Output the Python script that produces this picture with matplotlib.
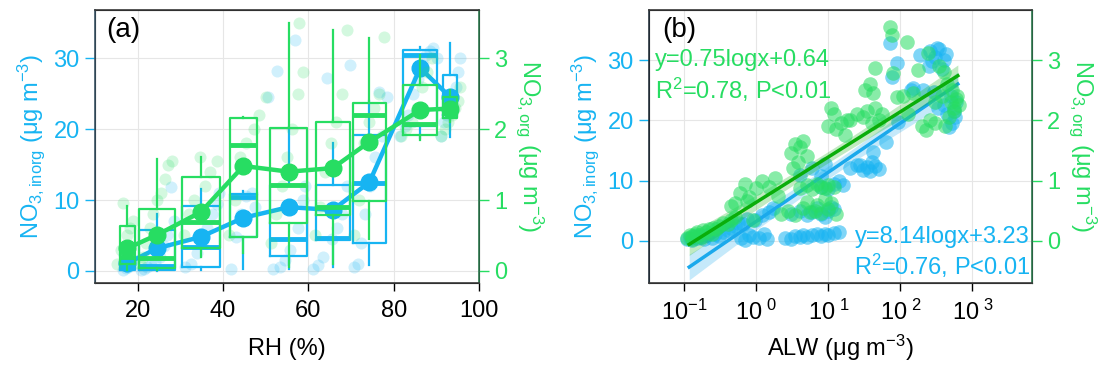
import matplotlib
matplotlib.use('Agg')
import matplotlib.pyplot as plt
import numpy as np

plt.rcParams['font.family'] = ['Liberation Sans', 'DejaVu Sans']
plt.rcParams['mathtext.fontset'] = 'custom'
plt.rcParams['mathtext.rm'] = 'Liberation Sans'
plt.rcParams['mathtext.it'] = 'Liberation Sans:italic'

BLUE = '#17b4f2'
GREEN = '#27dd62'
FIT_GREEN = '#0aae0a'
FIT_BLUE = '#1aa9ec'
FS = 17

#### panel (a): RH bins
bin_rh = [17.6, 24.6, 34.8, 44.8, 55.4, 65.7, 74.3, 86.2, 93.3]
bin_width = [3.7, 8.4, 8.9, 6.5, 8.6, 8.0, 7.8, 8.1, 3.3]
mean_inorg = [1.1, 3.2, 4.8, 7.5, 9.0, 8.6, 12.5, 28.6, 24.5]
mean_org = [0.32, 0.51, 0.83, 1.48, 1.40, 1.45, 1.82, 2.27, 2.29]

# whislo, q1, median, q3, whishi
box_inorg = [
    [0.0, 0.1, 0.5, 1.5, 2.5],
    [0.0, 0.2, 0.7, 5.8, 8.0],
    [0.2, 0.6, 3.4, 9.2, 11.5],
    [0.3, 4.8, 10.4, 10.8, 11.3],
    [0.3, 2.1, 4.5, 12.1, 20.0],
    [0.6, 4.3, 4.6, 12.1, 18.0],
    [0.8, 3.9, 12.4, 19.2, 24.0],
    [18.8, 20.5, 30.4, 31.1, 31.6],
    [18.9, 22.0, 24.3, 27.6, 32.1],
]
box_org = [
    [0.02, 0.10, 0.20, 0.63, 0.91],
    [0.02, 0.04, 0.18, 0.87, 1.58],
    [0.20, 0.32, 0.69, 1.33, 1.61],
    [0.25, 0.48, 1.77, 2.15, 2.17],
    [0.05, 0.67, 1.21, 2.01, 3.50],
    [0.10, 0.79, 0.90, 2.10, 3.40],
    [0.45, 0.98, 2.20, 2.37, 3.28],
    [1.85, 1.92, 2.07, 2.62, 3.05],
    [2.10, 2.15, 2.30, 2.45, 2.55],
]

# faint individual points
pts_rh_inorg = [16.5, 17.2, 17.8, 18.3, 18.9, 16.9, 17.5,
                20.8, 21.5, 22.3, 23.1, 24.0, 25.2, 26.1, 26.9, 27.8, 28.4,
                31.2, 32.5, 33.8, 35.0, 36.2, 37.4, 38.5, 39.1,
                41.8, 43.0, 44.2, 45.5, 46.8, 47.5,
                50.5, 51.8, 52.6, 53.4, 54.5, 55.6, 56.9, 57.5, 58.7, 59.3,
                61.2, 62.3, 63.5, 64.3, 65.5, 66.8, 67.9, 69.0, 69.8,
                70.8, 71.6, 72.4, 73.2, 74.4, 75.6, 76.5, 77.3, 78.5,
                81.5, 82.6, 83.4, 84.5, 85.6, 86.8, 87.5, 88.4, 89.3, 90.1,
                91.0, 91.8, 92.6, 93.2, 93.9, 94.5, 95.1, 95.6]
pts_inorg = [0.2, 0.4, 0.6, 1.0, 1.5, 2.2, 3.0,
             0.1, 0.3, 0.5, 0.8, 1.2, 2.0, 3.5, 5.0, 11.8, 7.0,
             0.5, 1.0, 2.5, 4.0, 6.0, 8.0, 9.5, 11.0,
             0.3, 4.8, 8.0, 10.5, 11.0, 9.0,
             24.5, 0.3, 28.2, 0.6, 1.5, 3.0, 32.5, 6.0, 10.0, 12.0,
             0.3, 0.8, 2.0, 27.2, 4.5, 6.0, 8.0, 12.0, 29.0,
             0.6, 1.0, 4.0, 8.0, 12.0, 16.0, 25.2, 19.0, 24.5,
             19.0, 20.5, 22.0, 25.0, 27.0, 29.0, 30.5, 31.0, 31.5, 30.0,
             19.0, 21.0, 22.0, 23.5, 24.5, 26.0, 28.0, 30.0]
pts_rh_org = [15.2, 16.0, 16.6, 17.4, 18.2, 19.0,
              20.5, 21.3, 22.0, 22.8, 23.6, 24.5, 25.4, 26.3, 27.2, 28.1,
              30.8, 32.0, 33.2, 34.6, 35.8, 37.0, 38.6,
              41.5, 42.8, 44.0, 45.3, 47.2, 48.5, 50.0,
              51.2, 52.5, 53.8, 55.0, 56.2, 57.5, 58.8, 57.9,
              61.5, 62.8, 64.0, 65.2, 66.5, 67.8, 69.0,
              70.6, 71.8, 73.0, 74.2, 75.4, 76.6, 77.8,
              81.8, 83.0, 84.2, 85.4, 86.6, 87.8, 89.0,
              91.2, 92.0, 92.8, 93.6, 94.3, 95.0, 95.6]
pts_org = [0.1, 0.3, 0.96, 0.5, 0.6, 0.7,
           0.1, 0.2, 0.4, 0.6, 0.8, 1.0, 1.1, 1.3, 1.5, 1.55,
           0.5, 0.8, 1.0, 1.6, 1.2, 1.4, 1.55,
           0.5, 1.0, 1.6, 1.8, 2.0, 2.2, 2.45,
           0.4, 0.8, 1.2, 1.6, 2.0, 2.5, 2.8, 3.5,
           0.5, 0.9, 1.4, 1.8, 2.1, 2.5, 3.4,
           0.5, 1.0, 1.8, 2.1, 2.3, 2.5, 3.3,
           1.9, 2.0, 2.1, 2.3, 2.6, 2.8, 3.0,
           1.9, 2.0, 2.1, 2.2, 2.3, 2.4, 2.6]

#### panel (b): ALW scatter
alw_inorg = [0.11, 0.12, 0.13, 0.14, 0.15, 0.17, 0.19, 0.21, 0.24, 0.27, 0.30, 0.35,
             0.40, 0.45, 0.50, 0.55, 0.62, 0.70, 0.80, 0.95, 1.1, 1.3, 1.5, 1.7,
             0.65, 0.75, 0.9, 1.2, 1.4,
             2.5, 3.0, 3.5, 4.0, 4.5, 5.0, 6.0, 7.0, 8.0, 9.0, 10.0, 12.0, 14.0,
             3.0, 4.0, 5.0, 6.0, 7.0, 8.0, 10.0, 12.0, 9.0, 11.0,
             8.0, 10.0, 12.0, 14.0, 16.0,
             4.0, 6.0, 8.0, 9.0,
             20.0, 25.0, 30.0, 35.0, 40.0, 45.0, 50.0, 28.0, 38.0,
             42.0, 63.0, 93.0, 148.0, 91.0, 78.0, 72.0, 190.0, 260.0, 300.0, 350.0,
             400.0, 470.0, 575.0, 210.0, 140.0, 290.0, 330.0, 400.0, 500.0, 450.0,
             600.0, 250.0, 380.0, 520.0, 320.0, 280.0, 430.0, 560.0]
y_inorg = [0.3, 0.5, 0.2, 0.8, 0.4, 0.6, 0.3, 0.9, 0.5, 1.2, 0.8, 1.5,
           1.8, 2.2, 2.5, 3.0, 0.4, 0.2, 0.9, 3.5, 0.5, 1.1, 4.8, 5.5,
           2.8, 3.6, 0.6, 4.2, 0.3,
           0.5, 0.3, 0.8, 0.6, 1.0, 0.7, 0.9, 1.1, 0.8, 1.2, 1.0, 1.3, 1.5,
           4.5, 5.0, 4.2, 4.8, 5.5, 4.4, 4.9, 5.2, 4.0, 5.6,
           9.0, 8.6, 9.5, 10.0, 9.2,
           11.0, 12.0, 10.7, 12.8,
           12.0, 12.5, 11.8, 12.2, 13.0, 12.4, 11.9, 12.6, 11.6,
           14.8, 16.4, 19.7, 25.4, 29.5, 27.2, 32.8, 30.8, 31.5, 30.5, 31.8,
           30.0, 18.9, 20.6, 25.0, 25.0, 24.7, 22.0, 22.5, 24.0, 21.0,
           23.0, 29.0, 28.5, 19.5, 32.0, 29.8, 31.0, 21.5]

alw_org = [0.11, 0.12, 0.13, 0.14, 0.15, 0.16, 0.18, 0.20, 0.22, 0.25, 0.28, 0.30,
           0.35, 0.40, 0.45, 0.50, 0.13, 0.17, 0.24,
           0.5, 0.6, 0.7, 0.8, 1.0, 1.2, 1.5, 1.8, 2.0, 0.45, 0.75, 0.9,
           3.0, 3.5, 4.0, 4.5, 5.0, 3.2, 3.8,
           2.2, 2.8, 3.5, 4.5, 5.5, 6.5, 8.0, 10.0, 13.0,
           4.0, 5.0, 6.0, 7.0, 8.0, 9.0, 10.0, 12.0,
           5.0, 7.0, 9.0, 11.0,
           11.0, 12.0, 13.0, 15.0, 17.0, 18.0, 10.0,
           20.0, 25.0, 30.0, 35.0, 40.0, 45.0, 50.0, 55.0,
           32.0, 38.0, 42.0,
           45.0, 72.0, 78.0, 126.0, 79.0, 178.0, 240.0, 200.0, 230.0, 260.0,
           300.0, 380.0, 450.0, 500.0, 550.0, 600.0, 400.0, 350.0, 480.0, 520.0,
           110.0, 90.0, 150.0, 130.0, 300.0, 420.0, 560.0, 620.0, 650.0]
y_org = [0.05, 0.10, 0.08, 0.12, 0.15, 0.10, 0.18, 0.15, 0.20, 0.22, 0.20, 0.25,
         0.30, 0.28, 0.35, 0.40, 0.03, 0.06, 0.12,
         0.62, 0.80, 0.95, 0.72, 0.88, 1.00, 0.90, 1.05, 0.75, 0.58, 0.66, 0.35,
         1.45, 1.60, 1.55, 1.65, 1.40, 1.20, 1.30,
         0.45, 0.50, 0.42, 0.55, 0.48, 0.50, 0.46, 0.52, 0.44,
         0.88, 0.92, 0.86, 0.95, 0.90, 0.88, 0.93, 0.90,
         0.65, 0.60, 0.70, 0.62,
         2.20, 2.10, 1.85, 1.95, 1.75, 2.00, 1.90,
         2.00, 2.10, 2.05, 2.15, 1.95, 2.20, 2.00, 2.10,
         2.50, 2.60, 2.45,
         2.87, 3.55, 3.42, 3.30, 2.79, 2.84, 3.12, 1.90, 1.84, 2.00,
         1.95, 2.40, 2.60, 2.30, 2.20, 2.35, 2.80, 2.90, 2.05, 2.50,
         2.40, 2.39, 2.45, 2.10, 2.30, 1.90, 2.15, 2.40, 2.25]

fit_inorg = (8.14, 3.23)   # y = a*log10(x) + b
fit_org = (0.75, 0.64)
fit_range = (0.117, 630.0)


def style_axes(ax, ax2, left_color, right_color):
    ax.tick_params(axis='y', colors=BLUE, labelsize=FS, length=7, width=1, pad=4)
    ax.tick_params(axis='x', colors='black', labelsize=FS, length=6, width=1, pad=6)
    ax2.tick_params(axis='y', colors=GREEN, labelsize=FS, length=7, width=1, pad=4)
    ax.yaxis.label.set_color(BLUE)
    ax2.yaxis.label.set_color(GREEN)
    for sp in ['top', 'bottom']:
        ax2.spines[sp].set_color('#3a3a3a')
    ax2.spines['left'].set_color(left_color)
    ax2.spines['right'].set_color(right_color)
    for sp in ax2.spines.values():
        sp.set_linewidth(1.2)
    ax.grid(True, color='#e6e6e6', lw=0.8)
    ax.set_axisbelow(True)


def band(ax, a, b, xs, ys, color):
    xs = np.asarray(xs); ys = np.asarray(ys)
    lx = np.log10(xs)
    res = ys - (a * lx + b)
    s = np.sqrt(np.sum(res ** 2) / (len(xs) - 2))
    gx = np.logspace(np.log10(fit_range[0]), np.log10(fit_range[1]), 60)
    lg = np.log10(gx)
    se = 1.96 * s * np.sqrt(1 / len(xs) + (lg - lx.mean()) ** 2 / np.sum((lx - lx.mean()) ** 2))
    ax.fill_between(gx, a * lg + b - se, a * lg + b + se, color=color, alpha=0.25, lw=0)
    ax.plot(gx, a * lg + b, color=color, lw=2.5)


fig = plt.figure(figsize=(11.06, 3.73), dpi=100)
axa = fig.add_axes([0.0859, 0.2413, 0.3472, 0.7319])
axb = fig.add_axes([0.5868, 0.2413, 0.3463, 0.7319])
axa2 = axa.twinx()
axb2 = axb.twinx()

# ---- (a)
def mkstats(rows):
    return [dict(whislo=r[0], q1=r[1], med=r[2], q3=r[3], whishi=r[4]) for r in rows]

axa.scatter(pts_rh_inorg, pts_inorg, s=75, color=BLUE, alpha=0.2, lw=0, zorder=1)
axa.bxp(mkstats(box_inorg), positions=bin_rh, widths=bin_width, showfliers=False,
        showcaps=False, manage_ticks=False,
        boxprops=dict(color=BLUE, lw=1.6), whiskerprops=dict(color=BLUE, lw=1.6),
        medianprops=dict(color=BLUE, lw=3.5))
axa.plot(bin_rh, mean_inorg, '-o', color=BLUE, lw=3.2, ms=12, zorder=5)

axa2.scatter(pts_rh_org, pts_org, s=75, color=GREEN, alpha=0.2, lw=0, zorder=1)
axa2.bxp(mkstats(box_org), positions=bin_rh, widths=bin_width, showfliers=False,
         showcaps=False, manage_ticks=False,
         boxprops=dict(color=GREEN, lw=1.6), whiskerprops=dict(color=GREEN, lw=1.6),
         medianprops=dict(color=GREEN, lw=3.5))
axa2.plot(bin_rh, mean_org, '-o', color=GREEN, lw=3.2, ms=12, zorder=5)

axa.set_xlim(10, 100)
axa.set_ylim(-1.7, 36.8)
axa2.set_ylim(-0.17, 3.68)
axa.set_xticks([20, 40, 60, 80, 100])
axa.set_yticks([0, 10, 20, 30])
axa2.set_yticks([0, 1, 2, 3])
axa.set_xlabel('RH (%)', fontsize=FS, labelpad=12)
axa.set_ylabel(r'NO$_{3,\mathrm{inorg}}$ (μg m$^{-3}$)', fontsize=FS, labelpad=5)
axa2.set_ylabel(r'NO$_{3,\mathrm{org}}$ (μg m$^{-3}$)', fontsize=FS, rotation=-90,
                va='bottom', labelpad=5)
axa.text(0.03, 0.975, '(a)', transform=axa.transAxes, fontsize=20, va='top', ha='left')
style_axes(axa, axa2, '#3c5566', '#2f7a50')

# ---- (b)
axb.scatter(alw_inorg, y_inorg, s=110, color=BLUE, alpha=0.55, lw=0, zorder=2)
band(axb, fit_inorg[0], fit_inorg[1], alw_inorg, y_inorg, FIT_BLUE)
axb2.scatter(alw_org, y_org, s=110, color=GREEN, alpha=0.55, lw=0, zorder=2)
band(axb2, fit_org[0], fit_org[1], alw_org, y_org, FIT_GREEN)

axb.set_xscale('log')
axb.set_xlim(10 ** -1.49, 10 ** 3.83)
axb.set_ylim(-7.0, 38.3)
axb2.set_ylim(-0.70, 3.83)
axb.set_xticks([0.1, 1, 10, 100, 1000])
axb.set_xticklabels([r'$10^{-1}$', r'$10^{\ 0}$', r'$10^{\ 1}$', r'$10^{\ 2}$', r'$10^{\ 3}$'])
axb.xaxis.set_minor_locator(matplotlib.ticker.NullLocator())
axb.set_yticks([0, 10, 20, 30])
axb2.set_yticks([0, 1, 2, 3])
axb.set_xlabel('ALW (μg m$^{-3}$)', fontsize=FS, labelpad=6)
axb.set_ylabel(r'NO$_{3,\mathrm{inorg}}$ (μg m$^{-3}$)', fontsize=FS, labelpad=5)
axb2.set_ylabel(r'NO$_{3,\mathrm{org}}$ (μg m$^{-3}$)', fontsize=FS, rotation=-90,
                va='bottom', labelpad=5)
axb.text(0.035, 0.975, '(b)', transform=axb.transAxes, fontsize=20, va='top', ha='left')
axb2.text(0.015, 0.755, 'y=0.75logx+0.64\n' + r'R$^2$=0.78, P<0.01', transform=axb2.transAxes,
          fontsize=FS, color=GREEN, va='center', ha='left', linespacing=1.2, zorder=6)
axb2.text(0.995, 0.11, 'y=8.14logx+3.23\n' + r'R$^2$=0.76, P<0.01', transform=axb2.transAxes,
          fontsize=FS, color=BLUE, va='center', ha='right', linespacing=1.2, zorder=6)
style_axes(axb, axb2, '#2a3640', '#2f7a50')

fig.savefig('out.png', dpi=100)
